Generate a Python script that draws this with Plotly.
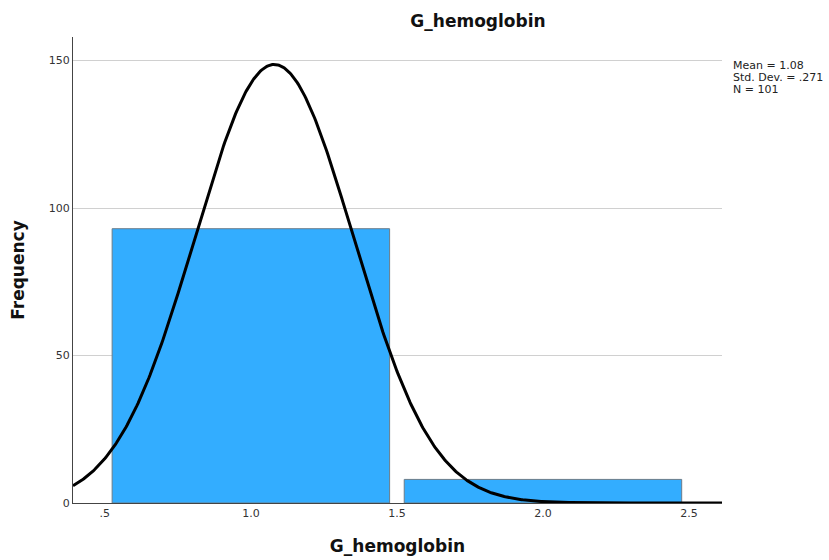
import numpy as np
import plotly.graph_objects as go

# Data
bin_centers = [1.0, 2.0]
bin_counts = [93, 8]
bin_width = 1.0
mean_val = 1.08
sd_val = 0.271
n_val = 101
x_tick_vals = [0.5, 1.0, 1.5, 2.0, 2.5]
x_tick_text = [".5", "1.0", "1.5", "2.0", "2.5"]
y_tick_vals = [0, 50, 100, 150]
stats_lines = [f"Mean = {mean_val:.2f}", f"Std. Dev. = {str(sd_val)[1:]}", f"N = {n_val}"]

x_min, x_max = 0.391, 2.613

# Fitted normal curve defined by the displayed statistics
xs = np.linspace(x_min, x_max, 600)
ys = n_val * bin_width / (sd_val * np.sqrt(2 * np.pi)) * np.exp(-0.5 * ((xs - mean_val) / sd_val) ** 2)

font_family = "DejaVu Sans, Lucida Grande, sans-serif"

fig = go.Figure()
fig.add_trace(go.Bar(
    x=bin_centers, y=bin_counts, width=0.95,
    marker=dict(color="#33adff", line=dict(color="#6a7c8a", width=1)),
    showlegend=False, hoverinfo="x+y",
))
fig.add_trace(go.Scatter(
    x=xs, y=ys, mode="lines",
    line=dict(color="black", width=3),
    showlegend=False, hoverinfo="skip",
))

annotations = []
for i, line in enumerate(stats_lines):
    annotations.append(dict(
        text=line, xref="paper", yref="paper", x=1.0, y=1.0,
        xshift=9, yshift=-28 - 12 * i,
        xanchor="left", yanchor="middle", align="left", showarrow=False,
        font=dict(size=11, color="#222222"),
    ))

fig.update_layout(
    width=829, height=560,
    paper_bgcolor="white", plot_bgcolor="white",
    margin=dict(l=73, r=107, t=37, b=57),
    font=dict(family=font_family, color="#222222"),
    title=dict(text="<b>G_hemoglobin</b>", x=478/829, xanchor="center",
               xref="container", y=1 - 21/560, yanchor="middle",
               font=dict(size=17, color="#111111")),
    xaxis=dict(
        range=[x_min, x_max], tickvals=x_tick_vals, ticktext=x_tick_text,
        showgrid=False, zeroline=False, showline=True, linecolor="#444444", linewidth=1,
        ticks="", tickfont=dict(size=11, color="#333333"), automargin=False,
        title=dict(text="<b>G_hemoglobin</b>", font=dict(size=17, color="#111111"), standoff=20),
    ),
    yaxis=dict(
        range=[0, 158], tickvals=y_tick_vals,
        showgrid=True, gridcolor="#d0d0d0", gridwidth=1, zeroline=False,
        showline=True, linecolor="#444444", linewidth=1,
        ticks="", tickfont=dict(size=11, color="#333333"), automargin=False,
        title=dict(text="<b>Frequency</b>", font=dict(size=17, color="#111111"), standoff=19),
    ),
    annotations=annotations,
)

fig.write_html("out.html")
